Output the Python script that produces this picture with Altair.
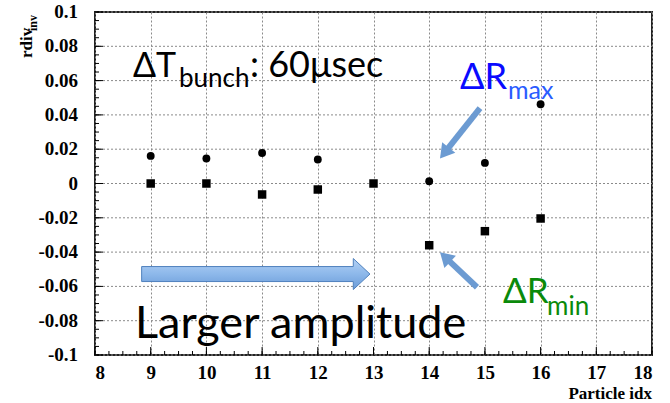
import math
import altair as alt
import pandas as pd

# ---- data ----
circle_x = [9, 10, 11, 12, 14, 15, 16]
circle_y = [0.0161, 0.0146, 0.0178, 0.0140, 0.0013, 0.0120, 0.0462]
square_x = [9, 10, 11, 12, 13, 14, 15, 16]
square_y = [0.0, 0.0, -0.0064, -0.0035, 0.0, -0.0360, -0.0278, -0.0204]

x_ticks = [8, 9, 10, 11, 12, 13, 14, 15, 16, 17, 18]
y_ticks = [-0.1, -0.08, -0.06, -0.04, -0.02, 0.0, 0.02, 0.04, 0.06, 0.08, 0.1]

# annotation anchors (data units)
arrow_tail_x = [14.912, 14.858]
arrow_tail_y = [0.0439, -0.0605]
arrow_tip_x = [14.194, 14.194]
arrow_tip_y = [0.01458, -0.0401]
block_arrow_x = [10.887]
block_arrow_y = [-0.0528]

W, H = 557, 343
XD = [8, 18]
YD = [-0.1, 0.1]

# minor tick positions (4 subdivisions per major)
x_minor = [XD[0] + i * 0.25 for i in range(41)]
y_minor = [round(YD[0] + i * 0.005, 4) for i in range(41)]

xs = alt.Scale(domain=XD, nice=False, zero=False)
ys = alt.Scale(domain=YD, nice=False, zero=False)

SERIF = "Liberation Serif"
SANS = "Lato"

axis_x = alt.Axis(values=x_ticks, title=None, ticks=False, domain=False,
                  grid=True, gridColor="#8a8a8a", gridDash=[2, 2], gridWidth=1,
                  labelFont=SERIF, labelFontWeight="bold", labelFontSize=19,
                  labelColor="black", labelPadding=8, labelOverlap=False)

# horizontal dotted grid at the major y ticks
grid_y = alt.Chart(pd.DataFrame({"y": y_ticks, "x0": [XD[0]] * len(y_ticks),
                                 "x1": [XD[1]] * len(y_ticks)})).mark_rule(
    color="#8a8a8a", strokeWidth=1, strokeDash=[2, 2], opacity=1).encode(
    y=alt.Y("y:Q", scale=ys, axis=None),
    x=alt.X("x0:Q", scale=xs, axis=axis_x), x2="x1:Q")

# y tick labels as text
ylab = alt.Chart(pd.DataFrame({"y": y_ticks, "t": [f"{v:g}" for v in y_ticks]})).mark_text(
    font=SERIF, fontWeight="bold", fontSize=19, color="black", align="right",
    baseline="middle").encode(
    y=alt.Y("y:Q", scale=ys, axis=None), x=alt.value(-17), text="t:N")

pts_c = pd.DataFrame({"x": circle_x, "y": circle_y})
pts_s = pd.DataFrame({"x": square_x, "y": square_y})

base_c = alt.Chart(pts_c).mark_point(shape="circle", filled=True, color="black",
                                    size=62, opacity=1).encode(
    x=alt.X("x:Q", scale=xs), y=alt.Y("y:Q", scale=ys, axis=None))
base_s = alt.Chart(pts_s).mark_point(shape="square", filled=True, color="black",
                                    size=72, opacity=1).encode(
    x=alt.X("x:Q", scale=xs), y=alt.Y("y:Q", scale=ys, axis=None))

# inward ticks
def xtick_layer(vals, length):
    return alt.Chart(pd.DataFrame({"x": vals})).mark_rule(color="black", strokeWidth=1, opacity=1).encode(
        x=alt.X("x:Q", scale=xs), y=alt.value(H), y2=alt.value(H - length))

def ytick_layer(vals, length):
    return alt.Chart(pd.DataFrame({"y": vals})).mark_rule(color="black", strokeWidth=1, opacity=1).encode(
        y=alt.Y("y:Q", scale=ys, axis=None), x=alt.value(0), x2=alt.value(length))

ticks = [xtick_layer(x_minor, 4), xtick_layer(x_ticks, 8),
         ytick_layer(y_minor, 4), ytick_layer(y_ticks, 8)]

# annotations
def note(text, x, y, size, color):
    return alt.Chart(pd.DataFrame({"x": [x], "y": [y], "t": [text]})).mark_text(
        font=SANS, fontSize=size, color=color, align="left", baseline="alphabetic").encode(
        x=alt.X("x:Q", scale=xs), y=alt.Y("y:Q", scale=ys, axis=None), text="t:N")

notes = [
    note("\u0394T", 8.682, 0.0623, 34, "black"),
    note("bunch", 9.508, 0.0564, 26, "black"),
    note(": 60\u03bcsec", 10.783, 0.0623, 36, "black"),
    note("\u0394R", 14.553, 0.0551, 36, "#0a0aff"),
    note("max", 15.415, 0.0491, 25, "#2a5cff"),
    note("\u0394R", 15.325, -0.0697, 35, "#0a8a0a"),
    note("min", 16.115, -0.0767, 26, "#0a8a0a"),
    note("Larger amplitude", 8.718, -0.0903, 45, "black"),
]

ARROW = "#6c9bd2"
arrow_layers = []
for tx, ty, hx, hy in zip(arrow_tail_x, arrow_tail_y, arrow_tip_x, arrow_tip_y):
    dx = (hx - tx) * W / (XD[1] - XD[0])
    dy = -(hy - ty) * H / (YD[1] - YD[0])
    length = math.hypot(dx, dy)
    k = 10.0 / length
    ex, ey = hx + (tx - hx) * k, hy + (ty - hy) * k
    ang = math.degrees(math.atan2(dy, dx)) % 360
    shaft = alt.Chart(pd.DataFrame({"x": [tx], "y": [ty], "x2": [ex], "y2": [ey]})).mark_rule(
        color=ARROW, strokeWidth=6, strokeCap="butt", opacity=1).encode(
        x=alt.X("x:Q", scale=xs), y=alt.Y("y:Q", scale=ys, axis=None), x2="x2:Q", y2="y2:Q")
    head = alt.Chart(pd.DataFrame({"x": [hx], "y": [hy]})).mark_point(
        shape="M 0 0 L -1 -0.6 L -1 0.6 Z", filled=True, color=ARROW, opacity=1,
        size=784, angle=ang).encode(
        x=alt.X("x:Q", scale=xs), y=alt.Y("y:Q", scale=ys, axis=None))
    arrow_layers += [shaft, head]

block_path = ("M -1 -0.0657 L 0.854 -0.0657 L 0.854 -0.136 L 1 0 L 0.854 0.136 "
              "L 0.854 0.0657 L -1 0.0657 Z")
grad = alt.LinearGradient(gradient="linear", x1=0, x2=0, y1=0, y2=1,
                          stops=[alt.GradientStop(offset=0, color="#b3d1f5"),
                                 alt.GradientStop(offset=0.5, color="#8db8ea"),
                                 alt.GradientStop(offset=1, color="#6a9bd8")])
block = alt.Chart(pd.DataFrame({"x": block_arrow_x, "y": block_arrow_y})).mark_point(
    shape=block_path, filled=True, fill=grad, stroke="#4f81bd", strokeWidth=1,
    opacity=1, size=228.3 ** 2).encode(
    x=alt.X("x:Q", scale=xs), y=alt.Y("y:Q", scale=ys, axis=None))

# axis titles as text
def title_text(text, x, y, size, angle=0, align="left"):
    return alt.Chart(pd.DataFrame({"t": [text]})).mark_text(
        font=SERIF, fontWeight="bold", fontSize=size, color="black", align=align,
        baseline="alphabetic", angle=angle).encode(
        x=alt.value(x), y=alt.value(y), text="t:N")

titles = [
    title_text("Particle idx", W, 387, 17, align="right"),
    title_text("rdiv", -63, 46, 17, angle=270),
    title_text("inv", -58, 19, 12, angle=270),
]

chart = alt.layer(grid_y, ylab, base_c, base_s, *ticks, block, *arrow_layers, *notes,
                  *titles).properties(
    width=W, height=H,
    autosize=alt.AutoSizeParams(type="none"),
    padding={"left": 95, "top": 12, "right": 18, "bottom": 48},
    background="white",
).configure_view(stroke="#222222", strokeWidth=2)

chart.save("out.html", embed_options={"renderer": "svg", "actions": False})
